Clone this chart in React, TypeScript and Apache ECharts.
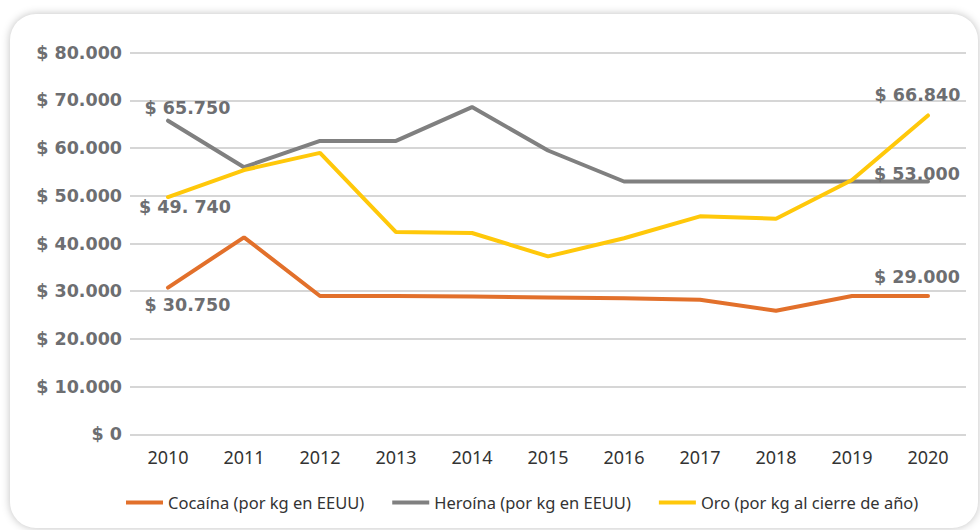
import React, { useEffect, useRef } from "react";
import * as echarts from "echarts";

const years = ["2010", "2011", "2012", "2013", "2014", "2015", "2016", "2017", "2018", "2019", "2020"];
const cocaina = [30750, 41300, 29000, 29000, 28900, 28700, 28500, 28200, 25900, 29000, 29000];
const heroina = [65750, 56000, 61500, 61500, 68600, 59500, 53000, 53000, 53000, 53000, 53000];
const oro = [49740, 55400, 59000, 42400, 42200, 37300, 41100, 45700, 45200, 53300, 66840];
const seriesNames = ["Cocaína (por kg en EEUU)", "Heroína (por kg en EEUU)", "Oro (por kg al cierre de año)"];

// value annotations: [series index, point index, text]
const annotations: [number, number, string][] = [
  [0, 0, "$ 30.750"],
  [0, 10, "$ 29.000"],
  [1, 0, "$ 65.750"],
  [1, 10, "$ 53.000"],
  [2, 0, "$ 49. 740"],
  [2, 10, "$ 66.840"],
];

const labelOffsets: Record<string, [number, number]> = {
  "0-0": [19.5, 17],
  "0-10": [-11, -19],
  "1-0": [19.5, -12.5],
  "1-10": [-11, -7],
  "2-0": [17, 10],
  "2-10": [-10.5, -20.5],
};

const colors = ["#E2702B", "#808080", "#FFC80A"];

function buildData(values: number[], si: number) {
  return values.map((v, i) => {
    const ann = annotations.find((a) => a[0] === si && a[1] === i);
    if (!ann) return v;
    return {
      value: v,
      label: {
        show: true,
        position: "inside",
        formatter: ann[2],
        offset: labelOffsets[`${si}-${i}`],
        color: "#6D6E71",
        fontFamily: "DejaVu Sans",
        fontWeight: "bold",
        fontSize: 17.5,
      },
    };
  });
}

export default function App() {
  const ref = useRef<HTMLDivElement>(null);
  useEffect(() => {
    if (!ref.current) return;
    const chart = echarts.init(ref.current, null, { renderer: "svg" });
    const all = [cocaina, heroina, oro];
    chart.setOption({
      animation: false,
      backgroundColor: "transparent",
      grid: { left: 130, right: 14, top: 52.7, bottom: 95.7, containLabel: false },
      legend: {
        left: 121,
        top: 489,
        icon: "rect",
        itemWidth: 37,
        itemHeight: 4,
        itemGap: 28,
        textStyle: { fontFamily: "Noto Sans", fontSize: 16.5, color: "#333333" },
        data: seriesNames,
      },
      xAxis: {
        type: "category",
        data: years,
        boundaryGap: true,
        axisLine: { show: false },
        axisTick: { show: false },
        axisLabel: { margin: 14, fontFamily: "Noto Sans", fontSize: 18, color: "#333333" },
      },
      yAxis: {
        type: "value",
        min: 0,
        max: 80000,
        interval: 10000,
        axisLine: { show: false },
        axisTick: { show: false },
        splitLine: { lineStyle: { color: "#D6D6D6", width: 2 } },
        axisLabel: {
          margin: 8,
          fontFamily: "DejaVu Sans",
          fontWeight: "bold",
          fontSize: 17.5,
          color: "#6D6E71",
          formatter: (v: number) => (v === 0 ? "$ 0" : `$ ${v / 1000}.000`),
        },
      },
      series: all.map((vals, si) => ({
        name: seriesNames[si],
        type: "line",
        data: buildData(vals, si),
        showSymbol: true,
        symbol: "circle",
        symbolSize: 0,
        lineStyle: { color: colors[si], width: 4, cap: "round" },
        itemStyle: { color: colors[si] },
        label: { show: false },
        emphasis: { disabled: true },
        z: si === 2 ? 3 : 2,
      })),
    });
    return () => chart.dispose();
  }, []);

  return (
    <div style={{ position: "fixed", left: 0, top: 0, width: 980, height: 530, background: "#ffffff", overflow: "hidden" }}>
      <div
        style={{
          position: "absolute",
          left: 10,
          top: 14,
          width: 968,
          height: 514,
          borderRadius: 26,
          background: "#ffffff",
          boxShadow: "0 0 9px rgba(0,0,0,0.25)",
        }}
      />
      <div ref={ref} style={{ position: "absolute", left: 0, top: 0, width: 980, height: 530 }} />
    </div>
  );
}
